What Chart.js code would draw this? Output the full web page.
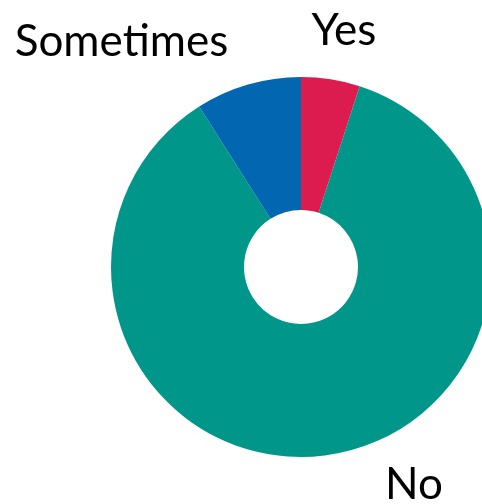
<!DOCTYPE html>
<html>
<head>
<meta charset="utf-8">
<script src="https://cdn.jsdelivr.net/npm/chart.js@4"></script>
<style>
html,body{margin:0;padding:0;background:#fff;overflow:hidden;}
#wrap{width:500px;height:504px;position:relative;}
</style>
</head>
<body>
<div id="wrap"><canvas id="c" width="500" height="504"></canvas></div>
<script>
const categories = ["Yes", "No", "Sometimes"];
const values = [5, 86, 9];
const colors = ["#DC1C4F", "#009689", "#0366B0"];

// label baseline offsets relative to chart center, in units of outer radius
const labelOffsets = [[0.226, -1.168], [0.595, 1.221], [-0.945, -1.111]];

const outsideLabels = {
  id: 'outsideLabels',
  afterDatasetsDraw(chart) {
    const ctx = chart.ctx;
    const meta = chart.getDatasetMeta(0);
    ctx.save();
    ctx.font = '44px Lato, "Open Sans", sans-serif';
    ctx.fillStyle = '#000';
    ctx.textAlign = 'center';
    ctx.textBaseline = 'alphabetic';
    meta.data.forEach((arc, i) => {
      const r = arc.outerRadius;
      const o = labelOffsets[i];
      ctx.fillText(chart.data.labels[i], arc.x + o[0] * r, arc.y + o[1] * r);
    });
    ctx.restore();
  }
};

new Chart(document.getElementById('c'), {
  type: 'doughnut',
  data: {
    labels: categories,
    datasets: [{ data: values, backgroundColor: colors, borderWidth: 0 }]
  },
  options: {
    responsive: false,
    animation: false,
    cutout: '30%',
    layout: { padding: { left: 111, right: 9, top: 77, bottom: 47 } },
    plugins: { legend: { display: false }, tooltip: { enabled: false } }
  },
  plugins: [outsideLabels]
});
</script>
</body>
</html>
